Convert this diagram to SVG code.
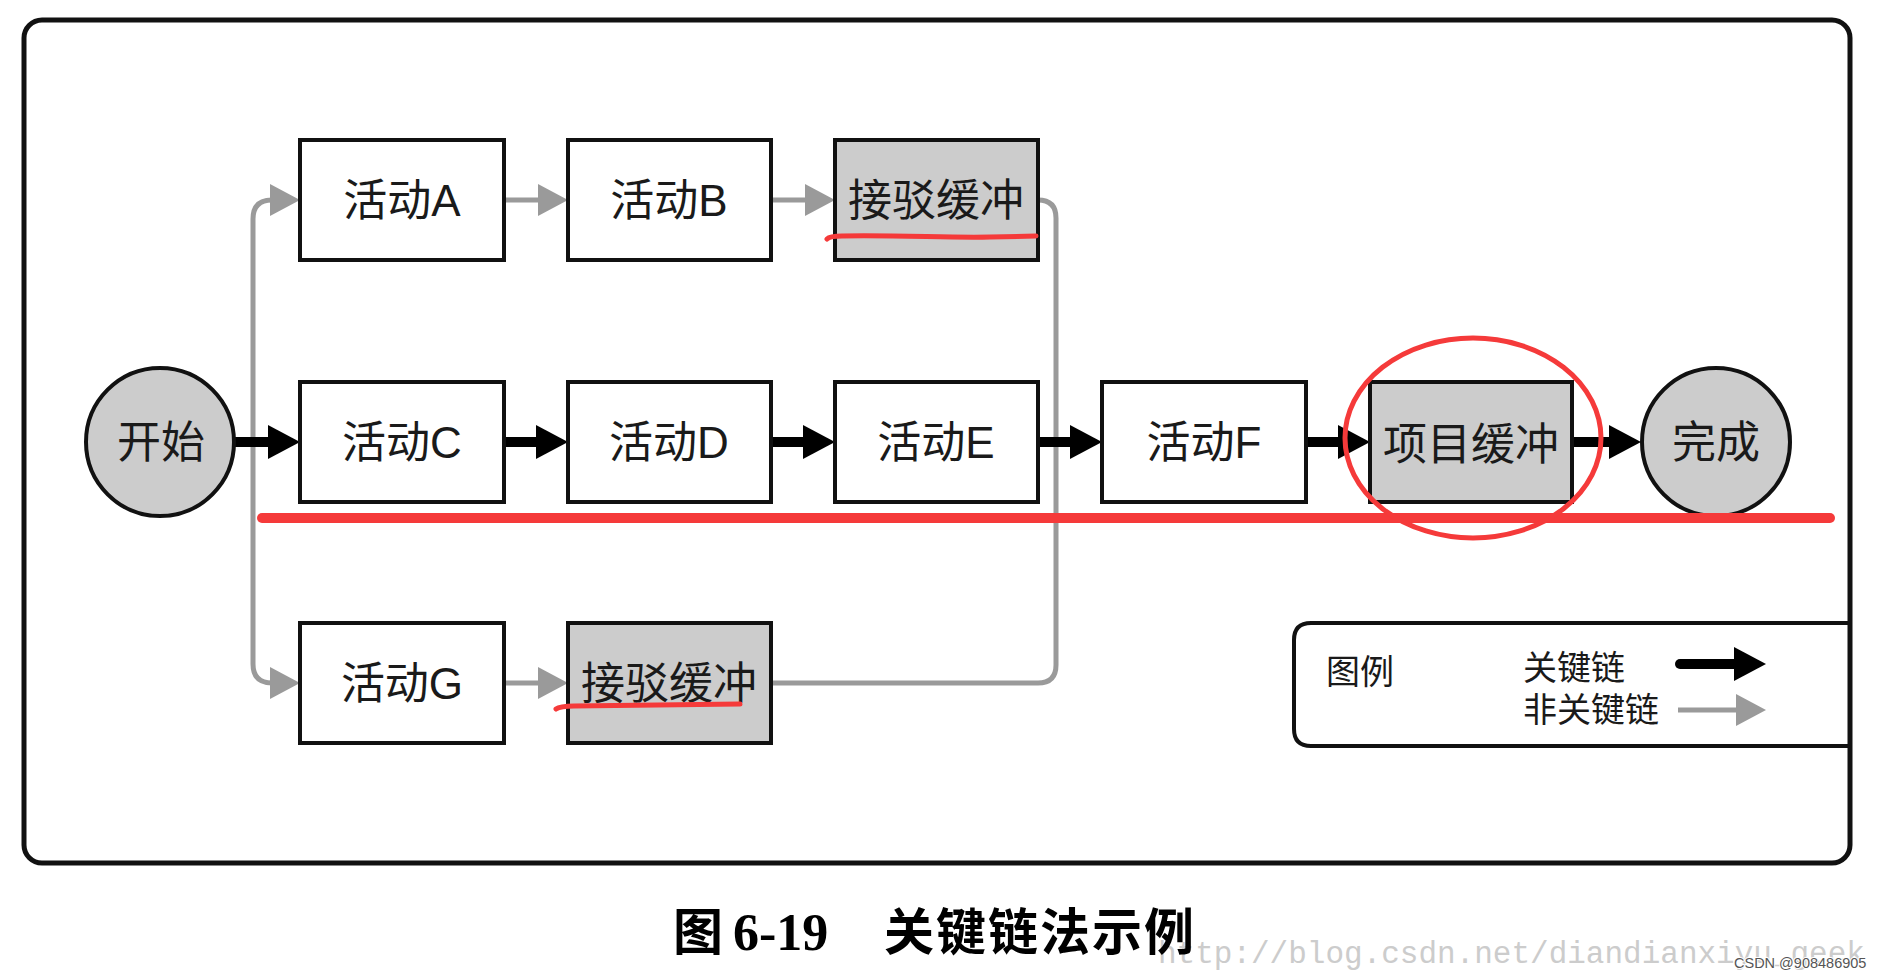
<svg xmlns="http://www.w3.org/2000/svg" width="1882" height="979" viewBox="0 0 1882 979">
<style>
.box{fill:#ffffff;stroke:#111111;stroke-width:4}
.buf{fill:#cccccc;stroke:#111111;stroke-width:4}
.circ{fill:#cccccc;stroke:#111111;stroke-width:4}
.lbl{font-family:"Liberation Sans","Noto Sans CJK SC",sans-serif;font-size:44px;fill:#1a1a1a;text-anchor:middle}
.leg{font-family:"Liberation Sans","Noto Sans CJK SC",sans-serif;font-size:34px;fill:#1a1a1a}
.crit{fill:none;stroke:#000000;stroke-width:10}
.non{fill:none;stroke:#9a9a9a;stroke-width:5}
.red{fill:none;stroke:#f53a3a;stroke-linecap:round}
</style>
<defs>
<marker id="mb" markerUnits="userSpaceOnUse" markerWidth="32" markerHeight="34" viewBox="0 0 32 34" refX="2" refY="17" orient="auto"><path d="M0,0 L32,17 L0,34 Z" fill="#000000"/></marker>
<marker id="mg" markerUnits="userSpaceOnUse" markerWidth="30" markerHeight="32" viewBox="0 0 30 32" refX="2" refY="16" orient="auto"><path d="M0,0 L30,16 L0,32 Z" fill="#9a9a9a"/></marker>
</defs>
<rect x="0" y="0" width="1882" height="979" fill="#ffffff"/>
<rect id="frame" x="24" y="20" width="1826" height="843" rx="18" fill="none" stroke="#111111" stroke-width="5"/>

<g id="connectors">
<path class="non" d="M253,442 V219 Q253,200 272,200" marker-end="url(#mg)"/>
<path class="non" d="M253,442 V664 Q253,683 272,683" marker-end="url(#mg)"/>
<path class="non" d="M504,200 H540" marker-end="url(#mg)"/>
<path class="non" d="M771,200 H807" marker-end="url(#mg)"/>
<path class="non" d="M504,683 H540" marker-end="url(#mg)"/>
<path class="non" d="M1038,200 Q1056,200 1056,218 V665 Q1056,683 1038,683 H771"/>
<path class="crit" d="M234,442 H270" marker-end="url(#mb)"/>
<path class="crit" d="M504,442 H538" marker-end="url(#mb)"/>
<path class="crit" d="M771,442 H805" marker-end="url(#mb)"/>
<path class="crit" d="M1038,442 H1072" marker-end="url(#mb)"/>
<path class="crit" d="M1306,442 H1340" marker-end="url(#mb)"/>
<path class="crit" d="M1572,442 H1611" marker-end="url(#mb)"/>
</g>

<g id="start"><circle class="circ" cx="160" cy="442" r="74"/><text class="lbl" x="161" y="458">开始</text></g>
<g id="actA"><rect class="box" x="300" y="140" width="204" height="120"/><text class="lbl" x="402" y="216">活动A</text></g>
<g id="actB"><rect class="box" x="568" y="140" width="203" height="120"/><text class="lbl" x="669" y="216">活动B</text></g>
<g id="feed1"><rect class="buf" x="835" y="140" width="203" height="120"/><text class="lbl" x="936" y="216">接驳缓冲</text></g>
<g id="actC"><rect class="box" x="300" y="382" width="204" height="120"/><text class="lbl" x="402" y="458">活动C</text></g>
<g id="actD"><rect class="box" x="568" y="382" width="203" height="120"/><text class="lbl" x="669" y="458">活动D</text></g>
<g id="actE"><rect class="box" x="835" y="382" width="203" height="120"/><text class="lbl" x="936" y="458">活动E</text></g>
<g id="actF"><rect class="box" x="1102" y="382" width="204" height="120"/><text class="lbl" x="1204" y="458">活动F</text></g>
<g id="projbuf"><rect class="buf" x="1370" y="382" width="202" height="120"/><text class="lbl" x="1471" y="460">项目缓冲</text></g>
<g id="finish"><circle class="circ" cx="1716" cy="442" r="74"/><text class="lbl" x="1716" y="458">完成</text></g>
<g id="actG"><rect class="box" x="300" y="623" width="204" height="120"/><text class="lbl" x="402" y="699">活动G</text></g>
<g id="feed2"><rect class="buf" x="568" y="623" width="203" height="120"/><text class="lbl" x="669" y="699">接驳缓冲</text></g>

<g id="legend">
<path d="M1850,623 H1311 Q1294,623 1294,640 V729 Q1294,746 1311,746 H1850" fill="none" stroke="#111111" stroke-width="4"/>
<text class="leg" x="1326" y="684">图例</text>
<text class="leg" x="1523" y="680">关键链</text>
<text class="leg" x="1523" y="722">非关键链</text>
<path d="M1680,664 H1736" stroke="#000000" stroke-width="10" stroke-linecap="round" fill="none" marker-end="url(#mb)"/>
<path d="M1678,710 H1738" stroke="#9a9a9a" stroke-width="5" fill="none" marker-end="url(#mg)"/>
</g>

<g id="annotations">
<path class="red" d="M262,518 H1830" stroke-width="10" stroke-linecap="butt"/>
<ellipse class="red" cx="1473" cy="438" rx="128" ry="100" stroke-width="5"/>
<path class="red" stroke-width="5" d="M827,239 Q830,236 842,236 C900,235 950,238 990,237 L1036,236"/>
<path class="red" stroke-width="5" d="M556,709 Q560,706 574,706 L740,704"/>
</g>

<text x="1158" y="963" font-family="Liberation Mono, monospace" font-size="31" fill="#cccccc">http://blog.csdn.net/diandianxiyu_geek</text>
<g id="caption" font-weight="bold" fill="#000000">
<text x="673" y="950" font-family="Noto Sans CJK SC, sans-serif" font-size="50">图</text>
<text x="733" y="950" font-family="Liberation Serif, serif" font-size="52">6-19</text>
<text x="884" y="950" font-family="Noto Sans CJK SC, sans-serif" font-size="50" letter-spacing="2">关键链法示例</text>
</g>
<text x="1734" y="968" font-family="Liberation Sans, sans-serif" font-size="14.5" fill="#555555" stroke="#ffffff" stroke-width="2" paint-order="stroke">CSDN @908486905</text>
</svg>
